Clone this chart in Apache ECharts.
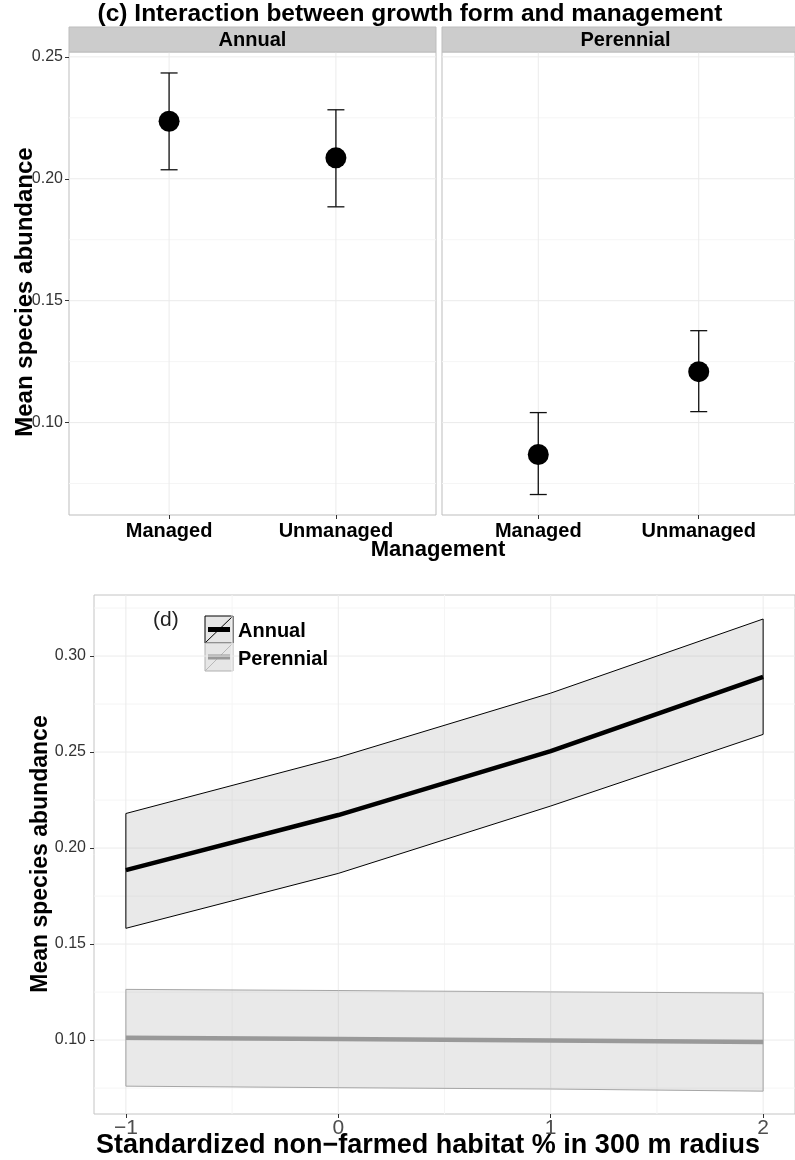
<!DOCTYPE html>
<html>
<head>
<meta charset="utf-8">
<script src="https://cdn.jsdelivr.net/npm/echarts@6/dist/echarts.min.js"></script>
<style>
  html, body { margin: 0; padding: 0; background: #fff; }
  #chart { width: 795px; height: 1160px; }
</style>
</head>
<body>
<div id="chart"></div>
<script>
// ---- (c) growth form x management: means with confidence limits ----
const management = ['Managed', 'Unmanaged'];
const growthForms = ['Annual', 'Perennial'];
const annualMean = [0.2236, 0.2086];
const annualLower = [0.2037, 0.1885];
const annualUpper = [0.2434, 0.2283];
const perennialMean = [0.0869, 0.1209];
const perennialLower = [0.0705, 0.1045];
const perennialUpper = [0.1041, 0.1377];
const topTicksY = [0.10, 0.15, 0.20, 0.25];
const topMinorY = [0.075, 0.125, 0.175, 0.225];

// ---- (d) fitted abundance along the habitat gradient ----
const habitat = [-1, 0, 1, 2];
const annualFit = [0.1885, 0.2172, 0.2505, 0.2892];
const annualFitLower = [0.1582, 0.1868, 0.2219, 0.2592];
const annualFitUpper = [0.2180, 0.2472, 0.2807, 0.3193];
const perennialFit = [0.1012, 0.1005, 0.0998, 0.0990];
const perennialFitLower = [0.0760, 0.0752, 0.0745, 0.0734];
const perennialFitUpper = [0.1264, 0.1258, 0.1251, 0.1245];
const bottomTicksX = [-1, 0, 1, 2];
const bottomMinorX = [-0.5, 0.5, 1.5];
const bottomTicksY = [0.10, 0.15, 0.20, 0.25, 0.30];
const bottomMinorY = [0.075, 0.125, 0.175, 0.225, 0.275, 0.325];

const FONT = '"Liberation Sans", Arial, Helvetica, sans-serif';
const chart = echarts.init(document.getElementById('chart'), null, { renderer: 'canvas' });

// light panel grid lines drawn through the axes' scales
function gridLines(gridIdx, majorX, minorX, majorY, minorY) {
  return {
    type: 'custom', xAxisIndex: gridIdx, yAxisIndex: gridIdx, z: 1, silent: true,
    data: [0],
    renderItem(params, api) {
      const cs = params.coordSys;
      const kids = [];
      const v = (x, color) => {
        const p = api.coord([x, 0.1]);
        kids.push({ type: 'line', shape: { x1: p[0], y1: cs.y, x2: p[0], y2: cs.y + cs.height },
          style: { stroke: color, lineWidth: 1 } });
      };
      const h = (y, color) => {
        const p = api.coord([1, y]);
        kids.push({ type: 'line', shape: { x1: cs.x, y1: p[1], x2: cs.x + cs.width, y2: p[1] },
          style: { stroke: color, lineWidth: 1 } });
      };
      minorX.forEach(x => v(x, '#f5f5f5'));
      minorY.forEach(y => h(y, '#f5f5f5'));
      majorX.forEach(x => v(x, '#ebebeb'));
      majorY.forEach(y => h(y, '#ebebeb'));
      return { type: 'group', children: kids };
    }
  };
}

function errorBars(gridIdx, lower, upper) {
  return {
    type: 'custom', xAxisIndex: gridIdx, yAxisIndex: gridIdx, z: 3,
    data: lower.map((lo, i) => [i + 1, lo, upper[i]]),
    renderItem(params, api) {
      const x = api.value(0);
      const lo = api.coord([x, api.value(1)]);
      const hi = api.coord([x, api.value(2)]);
      const w = 8.5;
      const st = { stroke: '#111', lineWidth: 1.3 };
      return { type: 'group', children: [
        { type: 'line', shape: { x1: lo[0], y1: lo[1], x2: hi[0], y2: hi[1] }, style: st },
        { type: 'line', shape: { x1: hi[0] - w, y1: hi[1], x2: hi[0] + w, y2: hi[1] }, style: st },
        { type: 'line', shape: { x1: lo[0] - w, y1: lo[1], x2: lo[0] + w, y2: lo[1] }, style: st }
      ] };
    }
  };
}

function ribbon(lower, upper, fill, stroke) {
  return {
    type: 'custom', xAxisIndex: 2, yAxisIndex: 2, z: 3, silent: true,
    data: [0],
    renderItem(params, api) {
      const pts = [];
      habitat.forEach((x, i) => pts.push(api.coord([x, upper[i]])));
      for (let i = habitat.length - 1; i >= 0; i--) pts.push(api.coord([habitat[i], lower[i]]));
      return { type: 'polygon', shape: { points: pts },
        style: { fill: fill, stroke: stroke, lineWidth: 1 } };
    }
  };
}

function pointAxisX(gridIdx) {
  return {
    gridIndex: gridIdx, type: 'value', min: 0.4, max: 2.6,
    axisLine: { show: false, onZero: false },
    axisTick: { show: true, customValues: [1, 2], length: 4, lineStyle: { color: '#333', width: 1 } },
    axisLabel: { customValues: [1, 2], formatter: v => management[Math.round(v) - 1],
      fontFamily: FONT, fontWeight: 'bold', fontSize: 20, color: '#000', margin: 6 },
    splitLine: { show: false }
  };
}

const option = {
  animation: false,
  backgroundColor: '#fff',
  grid: [
    { left: 69, top: 52, width: 367, height: 463, show: true, borderColor: '#bdbdbd', borderWidth: 1, containLabel: false },
    { left: 442, top: 52, width: 367, height: 463, show: true, borderColor: '#bdbdbd', borderWidth: 1, containLabel: false },
    { left: 94, top: 595, width: 703, height: 519, show: true, borderColor: '#c4c4c4', borderWidth: 1, containLabel: false }
  ],
  xAxis: [
    pointAxisX(0),
    pointAxisX(1),
    {
      gridIndex: 2, type: 'value', min: -1.15, max: 2.15,
      axisLine: { show: false, onZero: false },
      axisTick: { show: true, customValues: bottomTicksX, length: 4, lineStyle: { color: '#333', width: 1 } },
      axisLabel: { customValues: bottomTicksX, formatter: v => String(v).replace('-', '\u2212'),
        fontFamily: FONT, fontSize: 21, color: '#4d4d4d', margin: 4 },
      splitLine: { show: false }
    }
  ],
  yAxis: [
    {
      gridIndex: 0, type: 'value', min: 0.0621, max: 0.2520,
      axisLine: { show: false, onZero: false },
      axisTick: { show: true, customValues: topTicksY, length: 4, lineStyle: { color: '#333', width: 1 } },
      axisLabel: { customValues: topTicksY, formatter: v => v.toFixed(2),
        fontFamily: FONT, fontSize: 16, color: '#333', margin: 6 },
      splitLine: { show: false }
    },
    {
      gridIndex: 1, type: 'value', min: 0.0621, max: 0.2520,
      axisLine: { show: false, onZero: false }, axisTick: { show: false }, axisLabel: { show: false },
      splitLine: { show: false }
    },
    {
      gridIndex: 2, type: 'value', min: 0.0615, max: 0.3318,
      axisLine: { show: false, onZero: false },
      axisTick: { show: true, customValues: bottomTicksY, length: 4, lineStyle: { color: '#333', width: 1 } },
      axisLabel: { customValues: bottomTicksY, formatter: v => v.toFixed(2),
        fontFamily: FONT, fontSize: 16, color: '#333', margin: 8 },
      splitLine: { show: false }
    }
  ],
  series: [
    gridLines(0, [1, 2], [], topTicksY, topMinorY),
    gridLines(1, [1, 2], [], topTicksY, topMinorY),
    gridLines(2, bottomTicksX, bottomMinorX, bottomTicksY, bottomMinorY),

    errorBars(0, annualLower, annualUpper),
    errorBars(1, perennialLower, perennialUpper),
    {
      name: growthForms[0], type: 'scatter', xAxisIndex: 0, yAxisIndex: 0, z: 4,
      symbol: 'circle', symbolSize: 21, itemStyle: { color: '#000', opacity: 1 },
      data: annualMean.map((m, i) => [i + 1, m])
    },
    {
      name: growthForms[1], type: 'scatter', xAxisIndex: 1, yAxisIndex: 1, z: 4,
      symbol: 'circle', symbolSize: 21, itemStyle: { color: '#000', opacity: 1 },
      data: perennialMean.map((m, i) => [i + 1, m])
    },

    ribbon(annualFitLower, annualFitUpper, 'rgba(153,153,153,0.22)', '#000'),
    ribbon(perennialFitLower, perennialFitUpper, 'rgba(153,153,153,0.22)', '#a6a6a6'),
    {
      name: 'Annual', type: 'line', xAxisIndex: 2, yAxisIndex: 2, z: 5,
      symbol: 'none', lineStyle: { color: '#000', width: 4.5 },
      data: habitat.map((x, i) => [x, annualFit[i]])
    },
    {
      name: 'Perennial', type: 'line', xAxisIndex: 2, yAxisIndex: 2, z: 5,
      symbol: 'none', lineStyle: { color: '#999', width: 4.5 },
      data: habitat.map((x, i) => [x, perennialFit[i]])
    }
  ],
  graphic: [
    // panel (c) heading and facet strips
    { type: 'text', x: 410, y: 14, z: 10,
      style: { text: '(c) Interaction between growth form and management', font: 'bold 24.5px ' + FONT,
        fill: '#000', align: 'center', verticalAlign: 'middle' } },
    { type: 'rect', shape: { x: 69, y: 27, width: 367, height: 25 }, z: 10,
      style: { fill: '#cccccc', stroke: '#bdbdbd', lineWidth: 1 } },
    { type: 'rect', shape: { x: 442, y: 27, width: 367, height: 25 }, z: 10,
      style: { fill: '#cccccc', stroke: '#bdbdbd', lineWidth: 1 } },
    { type: 'text', x: 252.5, y: 40, z: 11,
      style: { text: growthForms[0], font: 'bold 20px ' + FONT, fill: '#000', align: 'center', verticalAlign: 'middle' } },
    { type: 'text', x: 625.5, y: 40, z: 11,
      style: { text: growthForms[1], font: 'bold 20px ' + FONT, fill: '#000', align: 'center', verticalAlign: 'middle' } },
    { type: 'text', x: 25, y: 292, rotation: Math.PI / 2, z: 10,
      style: { text: 'Mean species abundance', font: 'bold 24px ' + FONT, fill: '#000', align: 'center', verticalAlign: 'middle' } },
    { type: 'text', x: 438, y: 550, z: 10,
      style: { text: 'Management', font: 'bold 22px ' + FONT, fill: '#000', align: 'center', verticalAlign: 'middle' } },

    // panel (d) labels and legend
    { type: 'text', x: 41, y: 854, rotation: Math.PI / 2, z: 10,
      style: { text: 'Mean species abundance', font: 'bold 23px ' + FONT, fill: '#000', align: 'center', verticalAlign: 'middle' } },
    { type: 'text', x: 428, y: 1146, z: 10,
      style: { text: 'Standardized non\u2212farmed habitat % in 300 m radius', font: 'bold 27px ' + FONT,
        fill: '#000', align: 'center', verticalAlign: 'middle' } },
    { type: 'text', x: 153, y: 620, z: 10,
      style: { text: '(d)', font: '21px ' + FONT, fill: '#222', align: 'left', verticalAlign: 'middle' } },

    { type: 'group', x: 205, y: 616, z: 10, children: [
      { type: 'rect', shape: { x: 0, y: 0, width: 28, height: 27 }, style: { fill: '#e6e6e6', stroke: '#000', lineWidth: 1 } },
      { type: 'line', shape: { x1: 0, y1: 27, x2: 28, y2: 0 }, style: { stroke: '#000', lineWidth: 1 } },
      { type: 'line', shape: { x1: 3, y1: 13.5, x2: 25, y2: 13.5 }, style: { stroke: '#000', lineWidth: 5 } },
      { type: 'rect', shape: { x: 0, y: 27, width: 28, height: 28 }, style: { fill: '#e6e6e6', stroke: '#b0b0b0', lineWidth: 1 } },
      { type: 'line', shape: { x1: 0, y1: 55, x2: 28, y2: 27 }, style: { stroke: '#b8b8b8', lineWidth: 1 } },
      { type: 'line', shape: { x1: 3, y1: 41, x2: 25, y2: 41 }, style: { stroke: '#999', lineWidth: 5 } }
    ] },
    { type: 'text', x: 238, y: 631, z: 10,
      style: { text: 'Annual', font: 'bold 20px ' + FONT, fill: '#000', align: 'left', verticalAlign: 'middle' } },
    { type: 'text', x: 238, y: 659, z: 10,
      style: { text: 'Perennial', font: 'bold 20px ' + FONT, fill: '#000', align: 'left', verticalAlign: 'middle' } }
  ]
};

chart.setOption(option);
</script>
</body>
</html>
